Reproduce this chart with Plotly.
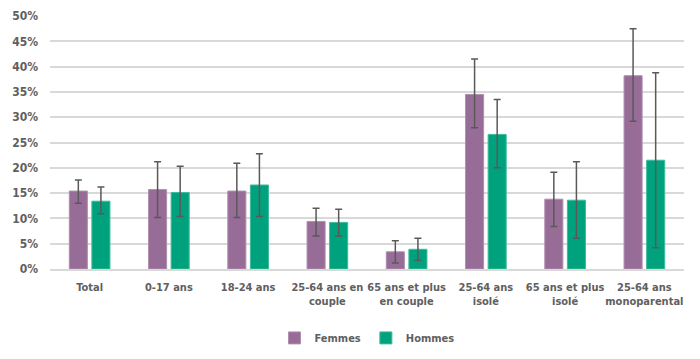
import plotly.graph_objects as go

categories = ["Total", "0-17 ans", "18-24 ans", "25-64 ans en<br>couple",
              "65 ans et plus<br>en couple", "25-64 ans<br>isolé",
              "65 ans et plus<br>isolé", "25-64 ans<br>monoparental"]
femmes = [15.4, 15.7, 15.4, 9.4, 3.4, 34.5, 13.8, 38.2]
femmes_hi = [17.6, 21.2, 20.9, 12.0, 5.6, 41.5, 19.1, 47.5]
femmes_lo = [13.0, 10.2, 10.2, 6.5, 1.2, 27.9, 8.4, 29.2]
hommes = [13.4, 15.1, 16.6, 9.2, 3.9, 26.6, 13.6, 21.5]
hommes_hi = [16.2, 20.3, 22.8, 11.8, 6.1, 33.5, 21.2, 38.8]
hommes_lo = [10.9, 10.4, 10.4, 6.5, 1.7, 20.0, 6.1, 4.2]
y_ticks = [0, 5, 10, 15, 20, 25, 30, 35, 40, 45, 50]
y_tick_labels = [f"{v}%" for v in y_ticks]

FONT = "DejaVu Sans Condensed"
TXT = "#606060"

def err(vals, hi, lo):
    return dict(type="data", symmetric=False,
                array=[h - v for h, v in zip(hi, vals)],
                arrayminus=[v - l for v, l in zip(vals, lo)],
                color="#595959", thickness=1.5, width=3.5)

fig = go.Figure()
fig.add_trace(go.Bar(name="Femmes", x=categories, y=femmes,
                     marker=dict(color="#976D98", line=dict(color="#B08EB1", width=1)),
                     error_y=err(femmes, femmes_hi, femmes_lo)))
fig.add_trace(go.Bar(name="Hommes", x=categories, y=hommes,
                     marker=dict(color="#00A27D", line=dict(color="#3DBA9C", width=1)),
                     error_y=err(hommes, hommes_hi, hommes_lo)))

tf = dict(family=FONT, size=11, color=TXT, weight="bold")
tfy = dict(family=FONT, size=12, color=TXT, weight="bold")

fig.update_layout(
    width=692, height=351,
    paper_bgcolor="white", plot_bgcolor="white",
    margin=dict(l=42, r=16, t=8, b=90, autoexpand=False),
    barmode="group", bargap=0.43, bargroupgap=0.2,
    font=tf,
    showlegend=True,
    legend=dict(orientation="h", x=0.5, xanchor="center", y=-0.215, yanchor="top",
                font=tf, itemwidth=30, traceorder="normal"),
    xaxis=dict(tickfont=tf, tickangle=0, automargin=False, showline=True,
               linecolor="#D9D9D9", linewidth=1.5, ticks="", ticklabelstandoff=7),
    yaxis=dict(range=[0, 50], tickvals=y_ticks, ticktext=y_tick_labels,
               tickfont=tfy, automargin=False,
               showgrid=True, gridcolor="#D9D9D9", gridwidth=1.5,
               zeroline=False, ticks="", ticklabelstandoff=11),
)

fig.write_html("out.html")
